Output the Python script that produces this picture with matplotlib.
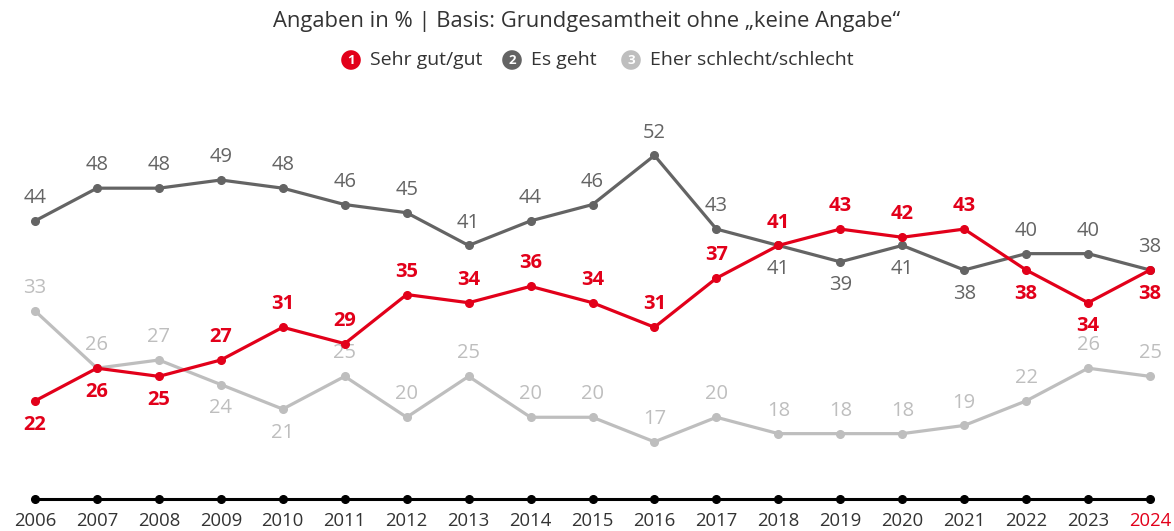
import matplotlib
matplotlib.use("Agg")
import matplotlib.pyplot as plt

years = list(range(2006, 2025))
sehr_gut = [22, 26, 25, 27, 31, 29, 35, 34, 36, 34, 31, 37, 41, 43, 42, 43, 38, 34, 38]
es_geht = [44, 48, 48, 49, 48, 46, 45, 41, 44, 46, 52, 43, 41, 39, 41, 38, 40, 40, 38]
schlecht = [33, 26, 27, 24, 21, 25, 20, 25, 20, 20, 17, 20, 18, 18, 18, 19, 22, 26, 25]

red_below = {0, 1, 2, 16, 17, 18}
dark_below = {12, 13, 14, 15}
light_below = {3, 4}

RED = "#E2001A"
DARK = "#646464"
LIGHT = "#BEBEBE"
TXT = "#333333"

plt.rcParams['font.family'] = ['Open Sans', 'DejaVu Sans']

fig = plt.figure(figsize=(11.74, 5.31), dpi=100)
ax = fig.add_axes([0, 0, 1, 1])
ax.set_xlim(2005.435, 2024.387)
ax.set_ylim(6.1, 71.0)
ax.axis("off")

def draw(vals, color, below, bold, z):
    ax.plot(years, vals, color=color, lw=2.3, marker="o", ms=5.5, zorder=z, solid_capstyle="round")
    for i, (x, v) in enumerate(zip(years, vals)):
        dy = -17 if i in below else 16.5
        ax.annotate(str(v), (x, v), xytext=(0, dy), textcoords="offset points",
                    ha="center", va="center", fontsize=14.5, color=color,
                    fontweight="bold" if bold else "normal", zorder=z + 1)

draw(schlecht, LIGHT, light_below, False, 2)
draw(es_geht, DARK, dark_below, False, 3)
draw(sehr_gut, RED, red_below, True, 4)

# baseline axis
base = [10] * len(years)
ax.plot(years, base, color="black", lw=2.2, marker="o", ms=5.5, zorder=5)
for i, y in enumerate(years):
    ax.annotate(str(y), (y, 10), xytext=(0, -15.5), textcoords="offset points",
                ha="center", va="center", fontsize=13.3,
                color=RED if y == 2024 else TXT)

# title
fig.text(0.5, 1 - 22 / 531, "Angaben in % | Basis: Grundgesamtheit ohne \u201ekeine Angabe\u201c",
         ha="center", va="center", fontsize=15.8, color=TXT)

# legend
leg = [("1", "Sehr gut/gut", RED, 351), ("2", "Es geht", DARK, 512), ("3", "Eher schlecht/schlecht", LIGHT, 631)]
ly = 1 - 60 / 531
for num, lab, col, xc in leg:
    fig.text(xc / 1174, ly, num, ha="center", va="center", fontsize=9.5, color="white",
             fontweight="bold",
             bbox=dict(boxstyle="circle,pad=0.25", fc=col, ec="none"))
    fig.text((xc + 19) / 1174, ly, lab, ha="left", va="center", fontsize=14, color=TXT)

fig.savefig("out.png", dpi=100)
